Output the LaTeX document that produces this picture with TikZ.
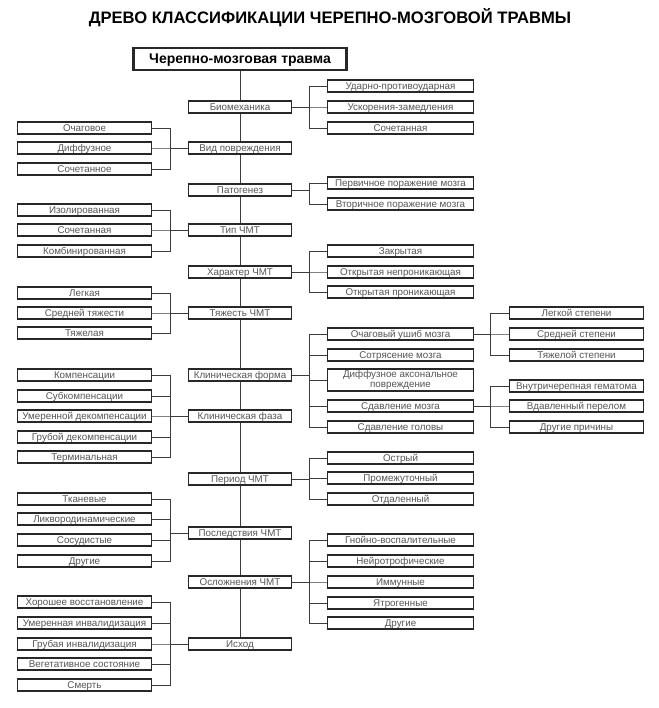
\documentclass[tikz,border=0pt]{standalone}
\usepackage{fontspec}
\setmainfont{Liberation Sans}
\usepackage{tikz}
\definecolor{boxline}{RGB}{40,40,40}
\definecolor{boxtext}{RGB}{85,85,85}
\definecolor{linkline}{RGB}{60,60,60}
\newcommand{\boxfont}{\fontsize{9.8}{10}\selectfont}
\tikzset{
  box/.style={draw=boxline,line width=1.5pt,fill=white,text=boxtext,font=\boxfont,inner sep=0pt,minimum height=12pt,text height=8pt,text depth=1pt},
  midbox/.style={box,minimum width=103pt},
  leftbox/.style={box,minimum width=134pt},
  rightbox/.style={box,minimum width=146pt},
  subbox/.style={box,minimum width=134pt},
  link/.style={draw=linkline,line width=0.8pt}
}

\begin{document}
\begin{tikzpicture}[x=1pt,y=-1pt]
\useasboundingbox (0,0) rectangle (658,708);
\node (title) at (330,18) {\fontsize{16.6}{18}\selectfont\bfseries ДРЕВО КЛАССИФИКАЦИИ ЧЕРЕПНО-МОЗГОВОЙ ТРАВМЫ};
\node [draw=boxline,line width=2.4pt,fill=white,minimum width=213pt,minimum height=22pt,inner sep=0pt,text height=11pt,text depth=2pt] (root) at (240,59) {\fontsize{14}{16}\selectfont\bfseries Черепно-мозговая травма};

\node [midbox] (bio) at (240,107) {Биомеханика};
\node [midbox] (vid) at (240,148) {Вид повреждения};
\node [midbox] (pat) at (240,190) {Патогенез};
\node [midbox] (tip) at (240,230) {Тип ЧМТ};
\node [midbox] (har) at (240,272) {Характер ЧМТ};
\node [midbox] (tyazh) at (240,313) {Тяжесть ЧМТ};
\node [midbox] (kform) at (240,375) {Клиническая форма};
\node [midbox] (kfaza) at (240,416) {Клиническая фаза};
\node [midbox] (period) at (240,479) {Период ЧМТ};
\node [midbox] (posl) at (240,533) {Последствия ЧМТ};
\node [midbox] (osl) at (240,582) {Осложнения ЧМТ};
\node [midbox] (ishod) at (240,644) {Исход};
\draw [link] (root) -- (bio) -- (vid) -- (pat) -- (tip) -- (har) -- (tyazh) -- (kform) -- (kfaza) -- (period) -- (posl) -- (osl) -- (ishod);

\node [leftbox] (vid1) at (84.5,128) {Очаговое};
\node [leftbox] (vid2) at (84.5,148) {Диффузное};
\node [leftbox] (vid3) at (84.5,169) {Сочетанное};
\node [leftbox] (tip1) at (84.5,210) {Изолированная};
\node [leftbox] (tip2) at (84.5,230) {Сочетанная};
\node [leftbox] (tip3) at (84.5,251) {Комбинированная};
\node [leftbox] (tyazh1) at (84.5,293) {Легкая};
\node [leftbox] (tyazh2) at (84.5,313) {Средней тяжести};
\node [leftbox] (tyazh3) at (84.5,333) {Тяжелая};
\node [leftbox] (faza1) at (84.5,375) {Компенсации};
\node [leftbox] (faza2) at (84.5,396) {Субкомпенсации};
\node [leftbox] (faza3) at (84.5,416) {Умеренной декомпенсации};
\node [leftbox] (faza4) at (84.5,437) {Грубой декомпенсации};
\node [leftbox] (faza5) at (84.5,457) {Терминальная};
\node [leftbox] (posl1) at (84.5,499) {Тканевые};
\node [leftbox] (posl2) at (84.5,519) {Ликвородинамические};
\node [leftbox] (posl3) at (84.5,540) {Сосудистые};
\node [leftbox] (posl4) at (84.5,561) {Другие};
\node [leftbox] (ish1) at (84.5,602) {Хорошее восстановление};
\node [leftbox] (ish2) at (84.5,623) {Умеренная инвалидизация};
\node [leftbox] (ish3) at (84.5,644) {Грубая инвалидизация};
\node [leftbox] (ish4) at (84.5,664) {Вегетативное состояние};
\node [leftbox] (ish5) at (84.5,685) {Смерть};
\foreach \c in {vid1,vid2,vid3} \draw [link] (\c.east) -- ++(18,0) |- (vid.west);
\foreach \c in {tip1,tip2,tip3} \draw [link] (\c.east) -- ++(18,0) |- (tip.west);
\foreach \c in {tyazh1,tyazh2,tyazh3} \draw [link] (\c.east) -- ++(18,0) |- (tyazh.west);
\foreach \c in {faza1,faza2,faza3,faza4,faza5} \draw [link] (\c.east) -- ++(18,0) |- (kfaza.west);
\foreach \c in {posl1,posl2,posl3,posl4} \draw [link] (\c.east) -- ++(18,0) |- (posl.west);
\foreach \c in {ish1,ish2,ish3,ish4,ish5} \draw [link] (\c.east) -- ++(18,0) |- (ishod.west);

\node [rightbox] (bio1) at (400.5,86) {Ударно-противоударная};
\node [rightbox] (bio2) at (400.5,107) {Ускорения-замедления};
\node [rightbox] (bio3) at (400.5,128) {Сочетанная};
\node [rightbox] (pat1) at (400.5,183) {Первичное поражение мозга};
\node [rightbox] (pat2) at (400.5,204) {Вторичное поражение мозга};
\node [rightbox] (har1) at (400.5,251) {Закрытая};
\node [rightbox] (har2) at (400.5,272) {Открытая непроникающая};
\node [rightbox] (har3) at (400.5,292) {Открытая проникающая};
\node [rightbox] (form1) at (400.5,334) {Очаговый ушиб мозга};
\node [rightbox] (form2) at (400.5,355) {Сотрясение мозга};
\node [rightbox,minimum height=22pt,text height=,text depth=,align=center] (form3) at (400.5,380) {Диффузное аксональное\\повреждение};
\node [rightbox] (form4) at (400.5,406) {Сдавление мозга};
\node [rightbox] (form5) at (400.5,427) {Сдавление головы};
\node [rightbox] (per1) at (400.5,458) {Острый};
\node [rightbox] (per2) at (400.5,478) {Промежуточный};
\node [rightbox] (per3) at (400.5,499) {Отдаленный};
\node [rightbox] (osl1) at (400.5,540) {Гнойно-воспалительные};
\node [rightbox] (osl2) at (400.5,561) {Нейротрофические};
\node [rightbox] (osl3) at (400.5,582) {Иммунные};
\node [rightbox] (osl4) at (400.5,603) {Ятрогенные};
\node [rightbox] (osl5) at (400.5,623) {Другие};
\foreach \c in {bio1,bio2,bio3} \draw [link] (\c.west) -- ++(-17,0) |- (bio.east);
\foreach \c in {pat1,pat2} \draw [link] (\c.west) -- ++(-17,0) |- (pat.east);
\foreach \c in {har1,har2,har3} \draw [link] (\c.west) -- ++(-17,0) |- (har.east);
\foreach \c in {form1,form2,form3,form4,form5} \draw [link] (\c.west) -- ++(-17,0) |- (kform.east);
\foreach \c in {per1,per2,per3} \draw [link] (\c.west) -- ++(-17,0) |- (period.east);
\foreach \c in {osl1,osl2,osl3,osl4,osl5} \draw [link] (\c.west) -- ++(-17,0) |- (osl.east);

\node [subbox] (ush1) at (576.5,313) {Легкой степени};
\node [subbox] (ush2) at (576.5,334) {Средней степени};
\node [subbox] (ush3) at (576.5,355) {Тяжелой степени};
\node [subbox] (sdav1) at (576.5,386) {Внутричерепная гематома};
\node [subbox] (sdav2) at (576.5,406) {Вдавленный перелом};
\node [subbox] (sdav3) at (576.5,427) {Другие причины};
\foreach \c in {ush1,ush2,ush3} \draw [link] (\c.west) -- ++(-18,0) |- (form1.east);
\foreach \c in {sdav1,sdav2,sdav3} \draw [link] (\c.west) -- ++(-18,0) |- (form4.east);
\end{tikzpicture}
\end{document}
